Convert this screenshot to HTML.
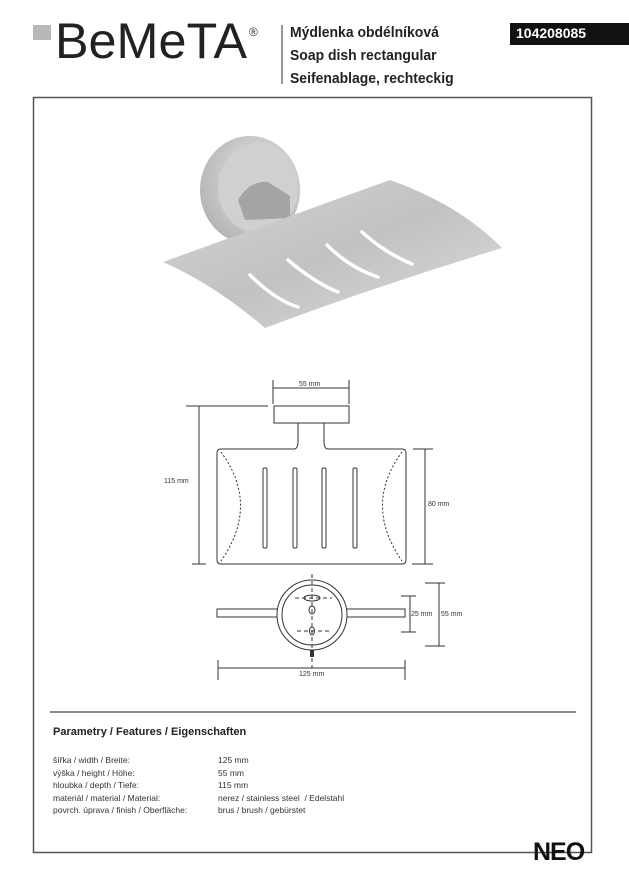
<!DOCTYPE html>
<html><head><meta charset="utf-8"><style>
body{margin:0;background:#fff;width:629px;height:892px;position:relative;overflow:hidden;font-family:"Liberation Sans",sans-serif;}
.t{position:absolute;white-space:nowrap;}
</style></head><body>
<svg width="629" height="892" style="position:absolute;left:0;top:0" font-family="Liberation Sans, sans-serif">
<defs>
<linearGradient id="g1" x1="0" y1="0" x2="1" y2="1"><stop offset="0" stop-color="#d4d4d4"/><stop offset="0.5" stop-color="#c2c2c2"/><stop offset="1" stop-color="#dcdcdc"/></linearGradient>
<radialGradient id="g2" cx="0.6" cy="0.4" r="0.7"><stop offset="0" stop-color="#e6e6e6"/><stop offset="1" stop-color="#b0b0b0"/></radialGradient>
</defs>
<!-- logo -->
<rect x="33" y="25" width="18" height="15" fill="#b8b8b8"/>
<text x="55" y="58" font-size="50" fill="#222" textLength="192" lengthAdjust="spacingAndGlyphs">BeMeTA</text>
<text x="249" y="36" font-size="12" fill="#333">®</text>
<line x1="282" y1="25" x2="282" y2="84" stroke="#555" stroke-width="1.2"/>
<rect x="510" y="23" width="119" height="22" fill="#111"/>
<!-- frame -->
<rect x="33.5" y="97.5" width="558" height="755" fill="none" stroke="#555" stroke-width="1.5"/>
<line x1="50" y1="712" x2="576" y2="712" stroke="#444" stroke-width="1.2"/>
<!-- photo -->
<ellipse cx="250" cy="190" rx="50" ry="54" fill="url(#g2)"/>
<ellipse cx="258" cy="188" rx="40" ry="45" fill="#d0d0d0"/>
<path d="M238 200 Q250 180 268 182 L290 196 L290 218 L245 220Z" fill="#a4a4a4"/>
<path d="M163 262 L390 180 Q460 205 502 248 Q380 285 265 328 Q215 285 163 262Z" fill="url(#g1)"/>
<g stroke="#fff" stroke-width="3.5" stroke-linecap="round" fill="none">
<path d="M250 275 Q275 300 298 307"/><path d="M288 260 Q315 283 338 292"/><path d="M327 245 Q350 268 378 277"/><path d="M362 232 Q385 253 412 264"/>
</g>
<!-- drawing -->
<g stroke="#333" stroke-width="1" fill="none">
<line x1="273" y1="388" x2="349" y2="388"/><line x1="273" y1="380" x2="273" y2="404"/><line x1="349" y1="380" x2="349" y2="404"/>
<rect x="274" y="406" width="75" height="17"/>
<path d="M298 423 V441 M324 423 V441"/>
<path d="M221 449 H294 Q298 449 298 441 M324 441 Q324 449 328 449 H402 Q406 449 406 453 V560 Q406 564 402 564 H221 Q217 564 217 560 V453 Q217 449 221 449"/>
<path d="M221 452 Q260 505 221 561 M402 452 Q363 505 402 561" stroke-dasharray="2,2"/>
<rect x="263" y="468" width="4" height="80" rx="1.5"/><rect x="293" y="468" width="4" height="80" rx="1.5"/><rect x="322" y="468" width="4" height="80" rx="1.5"/><rect x="353" y="468" width="4" height="80" rx="1.5"/>
<line x1="199" y1="406" x2="199" y2="564"/><line x1="186" y1="406" x2="268" y2="406"/><line x1="192" y1="564" x2="206" y2="564"/>
<line x1="425" y1="449" x2="425" y2="564"/><line x1="413" y1="449" x2="433" y2="449"/><line x1="412" y1="564" x2="433" y2="564"/>
<rect x="217" y="609" width="188" height="8" fill="#fff"/>
<circle cx="312" cy="615" r="35" fill="#fff"/><circle cx="312" cy="615" r="30"/>
<line x1="312" y1="574" x2="312" y2="668" stroke-dasharray="4,3"/>
<line x1="295" y1="598" x2="332" y2="598" stroke-dasharray="4,3"/><line x1="297" y1="631" x2="330" y2="631" stroke-dasharray="4,3"/>
<ellipse cx="312" cy="598" rx="8" ry="3"/><ellipse cx="312" cy="610" rx="3" ry="4"/><ellipse cx="312" cy="631" rx="2.5" ry="4"/>
<line x1="410" y1="596" x2="410" y2="632"/><line x1="401" y1="596" x2="416" y2="596"/><line x1="401" y1="632" x2="416" y2="632"/>
<line x1="439" y1="583" x2="439" y2="646"/><line x1="425" y1="583" x2="445" y2="583"/><line x1="425" y1="646" x2="445" y2="646"/>
<line x1="218" y1="668" x2="405" y2="668"/><line x1="218" y1="660" x2="218" y2="680"/><line x1="405" y1="660" x2="405" y2="680"/>
</g>
<rect x="310" y="650" width="4" height="7" fill="#333"/>
<g font-size="7" fill="#333">
<text x="299" y="386">55 mm</text><text x="164" y="483">115 mm</text><text x="428" y="506">80 mm</text>
<text x="411" y="616">25 mm</text><text x="441" y="616">55 mm</text><text x="299" y="676">125 mm</text>
</g>
</svg>
<div class="t" style="left:290px;top:21px;font-size:15px;font-weight:bold;line-height:23px;color:#222;transform:scaleX(0.93);transform-origin:left">Mýdlenka obdélníková<br>Soap dish rectangular<br>Seifenablage, rechteckig</div>
<div class="t" style="left:516px;top:25px;font-size:14px;font-weight:bold;color:#fff">104208085</div>
<div class="t" style="left:53px;top:726px;font-size:11px;font-weight:bold;color:#222">Parametry / Features / Eigenschaften</div>
<div class="t" style="left:53px;top:754px;font-size:8.5px;line-height:12.5px;color:#333">šířka / width / Breite:<br>výška / height / Höhe:<br>hloubka / depth / Tiefe:<br>materiál / material / Material:<br>povrch. úprava / finish / Oberfläche:</div>
<div class="t" style="left:218px;top:754px;font-size:8.5px;line-height:12.5px;color:#333">125 mm<br>55 mm<br>115 mm<br>nerez / stainless steel &nbsp;/ Edelstahl<br>brus / brush / gebürstet</div>
<div class="t" style="left:533px;top:838px;font-size:25px;font-weight:bold;color:#111;letter-spacing:-1px">NEO</div>
</body></html>
